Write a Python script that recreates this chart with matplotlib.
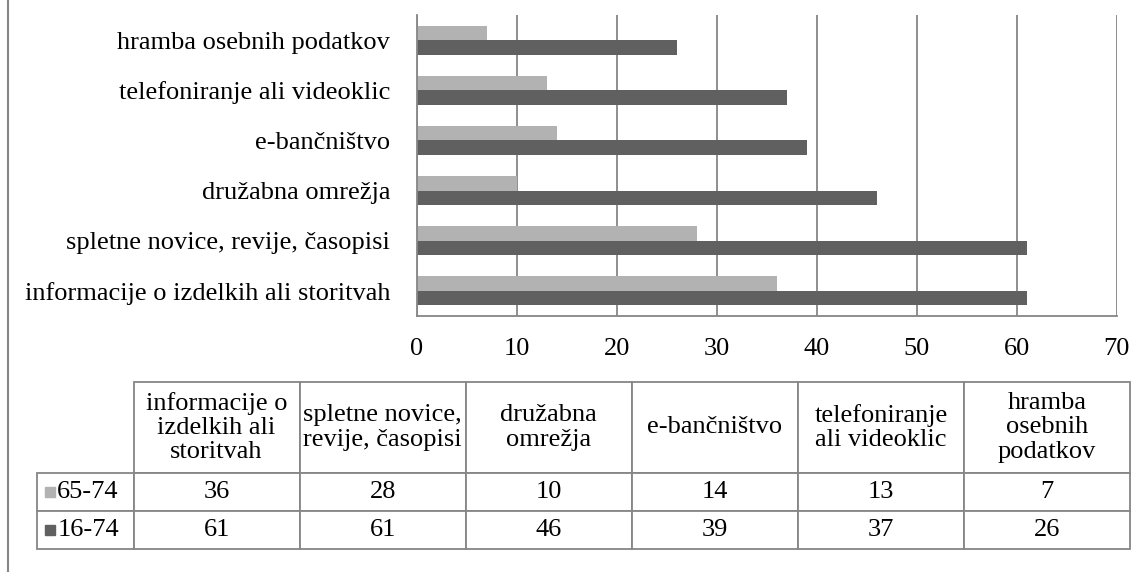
import numpy as np
import matplotlib
matplotlib.use('Agg')
import matplotlib.pyplot as plt
from matplotlib.lines import Line2D

plt.rcParams['font.family'] = ['Liberation Serif', 'DejaVu Serif']

# categories, bottom to top on the chart
categories = ['informacije o izdelkih ali storitvah',
              'spletne novice, revije, časopisi',
              'družabna omrežja',
              'e-bančništvo',
              'telefoniranje ali videoklic',
              'hramba osebnih podatkov']
table_headers = ['informacije o\nizdelkih ali\nstoritvah',
                 'spletne novice,\nrevije, časopisi',
                 'družabna\nomrežja',
                 'e-bančništvo',
                 'telefoniranje\nali videoklic',
                 'hramba\nosebnih\npodatkov']
series_names = ['65-74', '16-74']
vals_65_74 = [36, 28, 10, 14, 13, 7]
vals_16_74 = [61, 61, 46, 39, 37, 26]
series_colors = ['#b2b2b2', '#606060']
line_col = '#868686'
fs = 19

W, H = 1133, 572
fig = plt.figure(figsize=(W / 100, H / 100), dpi=100)

# plot area in pixels
px_l, px_r, px_t, px_b = 416.7, 1116.7, 15, 316
aw, ah = px_r - px_l, px_b - px_t
ax = fig.add_axes([px_l / W, 1 - px_b / H, aw / W, ah / H])

y = np.arange(len(categories))
bh = 0.29
ax.barh(y + bh / 2, vals_65_74, height=bh, color=series_colors[0], zorder=3)
ax.barh(y - bh / 2, vals_16_74, height=bh, color=series_colors[1], zorder=3)

ax.set_xlim(0, 70)
ax.set_ylim(-0.5, len(categories) - 0.5)
ax.set_xticks(np.arange(0, 71, 10))
ax.set_yticks(y)
ax.set_yticklabels(categories)
ax.tick_params(axis='both', length=0, labelsize=fs)
ax.tick_params(axis='x', pad=16)
ax.tick_params(axis='y', pad=19)
ax.grid(axis='x', color=line_col, linewidth=1.3, zorder=1)
for s in ['top', 'right']:
    ax.spines[s].set_visible(False)
for s in ['left', 'bottom']:
    ax.spines[s].set_color(line_col)
    ax.spines[s].set_linewidth(1.3)
    ax.spines[s].set_zorder(4)

# data table below the chart; first column holds the series names
lab_w, col_w, head_h, row_h = 96.5 / aw, 166 / aw, 91 / ah, 38 / ah
tb_l, tb_r, tb_t, tb_b = 37, 1130, 382, 549
bbox = [(tb_l - px_l) / aw, (px_b - tb_b) / ah, (tb_r - tb_l) / aw, (tb_b - tb_t) / ah]
cell_text = [[series_names[0]] + [str(v) for v in vals_65_74],
             [series_names[1]] + [str(v) for v in vals_16_74]]
tbl = ax.table(cellText=cell_text, colLabels=[''] + table_headers,
               cellLoc='center', colLoc='center', bbox=bbox)
tbl.auto_set_font_size(False)
tbl.set_fontsize(fs)
for (r, c), cell in tbl.get_celld().items():
    cell.set_edgecolor(line_col)
    cell.set_linewidth(1.3)
    cell.set_height(head_h if r == 0 else row_h)
    cell.set_width(lab_w if c == 0 else col_w)
    cell.get_text().set_linespacing(1.12)
    if c == 0:
        if r == 0:
            cell.visible_edges = ''
        else:
            cell._loc = 'left'
            cell.get_text().set_ha('left')
            cell.PAD = 0.21

# legend keys in the row labels
for i, col in enumerate(series_colors):
    yc = 492 + i * 38
    fig.add_artist(Line2D([50 / W], [1 - yc / H], marker='s', markersize=7.5,
                          color=col, linestyle='none'))

# outer frame line on the left
fig.add_artist(Line2D([8 / W, 8 / W], [0, 1], color=line_col, linewidth=1.5))

fig.savefig('out.png', dpi=100)
